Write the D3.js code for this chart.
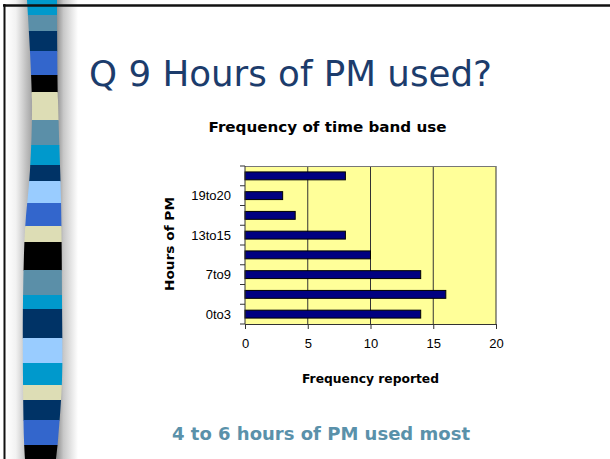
<!DOCTYPE html>
<html>
<head>
    <meta charset="utf-8">
    <title>q9-hours-of-pm</title>
    <style>
body { margin: 0; background: #fff; }
.comic { font-family: "Comic Sans MS", "DejaVu Sans", sans-serif; }
.tick text { font-family: "Liberation Sans", Arial, sans-serif; font-size: 13px; fill: #000; }
.bar { fill: #000080; stroke: #000; stroke-width: 1; }
</style>
</head>
<body>
<script src="https://cdn.jsdelivr.net/npm/d3@7"></script>
<script>
// the data
var categories = ["0to3", "4to6", "7to9", "10to12", "13to15", "16to18", "19to20", "21to24"];
var frequency = [14, 16, 14, 10, 8, 4, 3, 8];
var xTicks = [0, 5, 10, 15, 20];
var shownLabels = ["0to3", "7to9", "13to15", "19to20"];

// decorative ribbon down the left side of the slide (colour, start y, end y)
var ribbonColors = ["#0099cc", "#5b8fa8", "#003366", "#3366cc", "#000000", "#ddddb5",
    "#5b8fa8", "#0099cc", "#003366", "#99ccff", "#3366cc", "#ddddb5", "#000000",
    "#5b8fa8", "#0099cc", "#003366", "#99ccff", "#0099cc", "#ddddb5", "#003366",
    "#3366cc", "#000000"];
var ribbonBreaks = [0, 15, 31, 51, 75, 92, 120, 145, 165, 181, 203, 226, 242,
    270, 295, 309, 338, 363, 385, 400, 420, 445, 459];

var totalWidth = 610, totalHeight = 459;
var margin = { top: 166, right: 114, bottom: 135, left: 245 };
var width = totalWidth - margin.left - margin.right,
    height = totalHeight - margin.top - margin.bottom;

var svg = d3.select("body").append("svg")
    .attr("width", totalWidth)
    .attr("height", totalHeight);

var defs = svg.append("defs");
function grad(id, stops) {
    var g = defs.append("linearGradient").attr("id", id)
        .attr("x1", "0%").attr("x2", "100%").attr("y1", "0%").attr("y2", "0%");
    stops.forEach(function (s) {
        g.append("stop").attr("offset", s[0]).attr("stop-color", s[1]);
    });
}
grad("shadeL", [["0%", "#ffffff"], ["35%", "#f2f2f2"], ["100%", "#9a9a9a"]]);
grad("shadeR", [["0%", "#7a7a7a"], ["40%", "#c8c8c8"], ["100%", "#ffffff"]]);

// shadows either side of the ribbon
svg.append("rect").attr("x", 6).attr("y", 0).attr("width", 28).attr("height", totalHeight)
    .attr("fill", "url(#shadeL)");
svg.append("rect").attr("x", 54).attr("y", 0).attr("width", 24).attr("height", totalHeight)
    .attr("fill", "url(#shadeR)");

// wavy ribbon outline
var leftEdge = [[0, 27], [100, 32], [170, 30], [230, 25], [300, 23], [380, 23], [440, 24], [459, 25]];
var rightEdge = [[0, 57], [100, 58], [200, 61], [300, 62], [380, 62], [440, 58], [459, 56]];
var edge = d3.line().x(function (d) { return d[1]; }).y(function (d) { return d[0]; })
    .curve(d3.curveCatmullRom);
var ribbonPath = edge(leftEdge) + "L" + edge(rightEdge.slice().reverse()).slice(1) + "Z";
defs.append("clipPath").attr("id", "ribbonClip").append("path").attr("d", ribbonPath);

svg.append("g").attr("clip-path", "url(#ribbonClip)")
    .selectAll("rect")
    .data(ribbonColors)
    .enter().append("rect")
    .attr("x", 15).attr("width", 55)
    .attr("y", function (d, i) { return ribbonBreaks[i]; })
    .attr("height", function (d, i) { return ribbonBreaks[i + 1] - ribbonBreaks[i] + 0.5; })
    .attr("fill", function (d) { return d; });

// slide frame (top and left edges)
svg.append("line").attr("x1", 3).attr("x2", totalWidth).attr("y1", 5.5).attr("y2", 5.5)
    .attr("stroke", "#111").attr("stroke-width", 2.5);
svg.append("line").attr("x1", 4.5).attr("x2", 4.5).attr("y1", 4).attr("y2", totalHeight)
    .attr("stroke", "#111").attr("stroke-width", 2);

// slide title
svg.append("text").attr("class", "comic")
    .attr("x", 89).attr("y", 86)
    .attr("textLength", 403).attr("lengthAdjust", "spacingAndGlyphs")
    .style("font-size", "35px").style("fill", "#1c3c6c")
    .text("Q 9 Hours of PM used?");

// chart
var g = svg.append("g")
    .attr("transform", "translate(" + margin.left + "," + margin.top + ")");

var x = d3.scaleLinear().domain([0, 20]).range([0, width]);
var y = d3.scaleBand()
    .domain(categories.slice().reverse())
    .range([0, height])
    .paddingInner(0.6)
    .paddingOuter(0.3);
var step = y.step();

g.append("rect").attr("width", width).attr("height", height).attr("fill", "#ffff99");

// gridlines
g.selectAll(".grid")
    .data(xTicks.slice(1))
    .enter().append("line")
    .attr("class", "grid")
    .attr("x1", function (d) { return x(d); }).attr("x2", function (d) { return x(d); })
    .attr("y1", 0).attr("y2", height)
    .attr("stroke", "#333").attr("stroke-width", 1);
g.append("line").attr("x1", 0).attr("x2", width).attr("y1", 0.5).attr("y2", 0.5)
    .attr("stroke", "#777");

var data = categories.map(function (c, i) { return { band: c, value: frequency[i] }; });

g.selectAll(".bar")
    .data(data)
    .enter().append("rect")
    .attr("class", "bar")
    .attr("x", 0)
    .attr("y", function (d) { return y(d.band); })
    .attr("width", function (d) { return x(d.value); })
    .attr("height", y.bandwidth());

// x axis
var xAxis = g.append("g")
    .attr("transform", "translate(0," + height + ")")
    .call(d3.axisBottom(x).tickValues(xTicks).tickSize(5).tickPadding(10).tickSizeOuter(0));
xAxis.select(".domain").attr("stroke", "#333");
xAxis.selectAll(".tick line").attr("stroke", "#333");

// y axis: ticks at band boundaries, labels on every other band
var yAxis = g.append("g");
yAxis.append("line").attr("x1", 0).attr("x2", 0).attr("y1", 0).attr("y2", height)
    .attr("stroke", "#333");
yAxis.selectAll(".ytick")
    .data(d3.range(categories.length + 1))
    .enter().append("line")
    .attr("class", "ytick")
    .attr("x1", -5).attr("x2", 0)
    .attr("y1", function (i) { return i * step; })
    .attr("y2", function (i) { return i * step; })
    .attr("stroke", "#333");
yAxis.selectAll(".ylab")
    .data(shownLabels)
    .enter().append("text")
    .attr("class", "ylab")
    .attr("x", -14)
    .attr("y", function (d) { return y(d) + y.bandwidth() / 2; })
    .attr("dy", "0.35em")
    .attr("text-anchor", "end")
    .style("font-family", "'Liberation Sans', Arial, sans-serif")
    .style("font-size", "13px")
    .text(function (d) { return d; });

// titles
svg.append("text").attr("class", "comic")
    .attr("x", 327.5).attr("y", 132)
    .attr("text-anchor", "middle")
    .attr("textLength", 238).attr("lengthAdjust", "spacingAndGlyphs")
    .style("font-size", "14px").style("font-weight", "bold")
    .text("Frequency of time band use");

svg.append("text").attr("class", "comic")
    .attr("x", margin.left + width / 2).attr("y", 383)
    .attr("text-anchor", "middle")
    .attr("textLength", 137).attr("lengthAdjust", "spacingAndGlyphs")
    .style("font-size", "12px").style("font-weight", "bold")
    .text("Frequency reported");

svg.append("text").attr("class", "comic")
    .attr("transform", "translate(174,244) rotate(-90)")
    .attr("text-anchor", "middle")
    .attr("textLength", 94).attr("lengthAdjust", "spacingAndGlyphs")
    .style("font-size", "12px").style("font-weight", "bold")
    .text("Hours of PM");

// caption under the chart
svg.append("text").attr("class", "comic")
    .attr("x", 172).attr("y", 440)
    .attr("textLength", 298).attr("lengthAdjust", "spacingAndGlyphs")
    .style("font-size", "18px").style("font-weight", "bold").style("fill", "#5a91aa")
    .text("4 to 6 hours of PM used most");
</script>
</body>
</html>
